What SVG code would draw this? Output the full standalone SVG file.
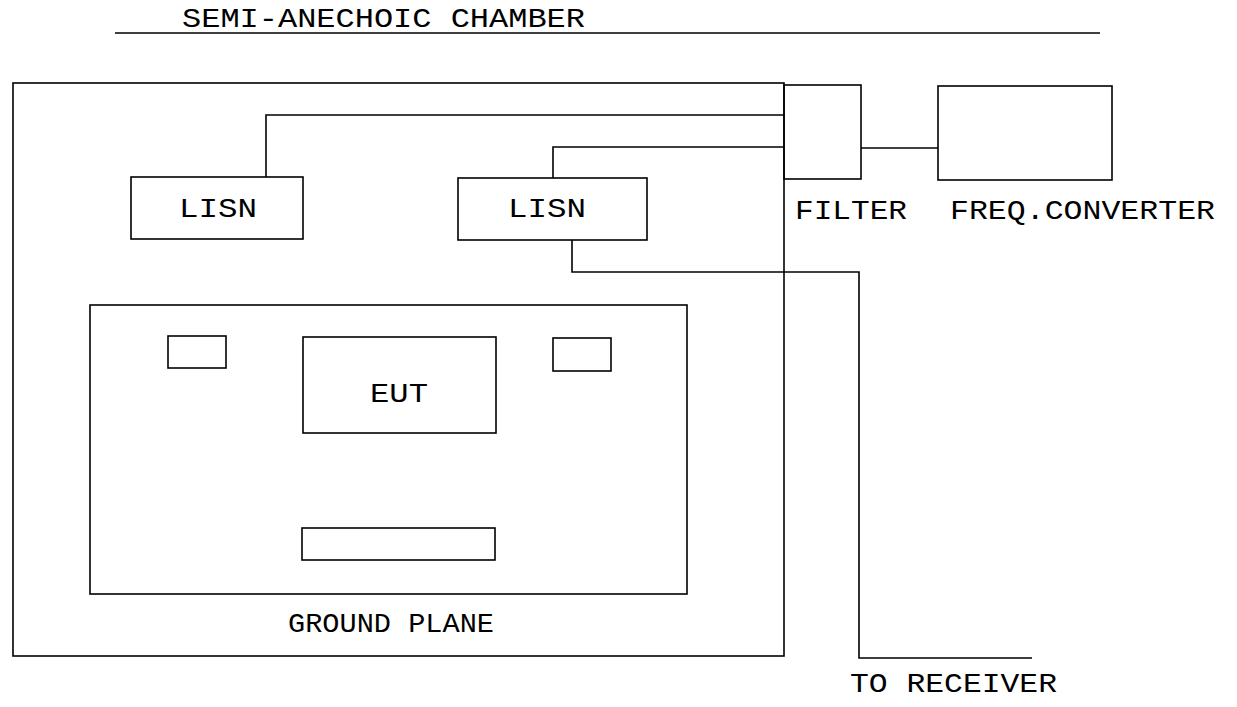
<svg xmlns="http://www.w3.org/2000/svg" width="1237" height="707" viewBox="0 0 1237 707">
<style>
.b{fill:none;stroke:#000;stroke-width:1.6}
.w{fill:none;stroke:#000;stroke-width:1.6}
.t{font-family:"Liberation Mono","Courier New",monospace;font-size:28px;fill:#000}
</style>
<rect width="1237" height="707" fill="#fff"/>
<g id="title">
<text class="t" x="182" y="27" textLength="403" lengthAdjust="spacingAndGlyphs">SEMI-ANECHOIC CHAMBER</text>
<line class="w" x1="115" y1="33" x2="1100" y2="33"/>
</g>
<g id="chamber">
<rect class="b" x="13" y="83" width="771" height="573"/>
</g>
<g id="filter">
<rect class="b" x="784" y="85" width="77" height="94"/>
<text class="t" x="795" y="219" textLength="112" lengthAdjust="spacingAndGlyphs">FILTER</text>
</g>
<g id="freqconv">
<rect class="b" x="938" y="86" width="174" height="94"/>
<text class="t" x="950" y="219" textLength="265" lengthAdjust="spacingAndGlyphs">FREQ.CONVERTER</text>
</g>
<g id="lisn1">
<rect class="b" x="131" y="177" width="172" height="62"/>
<text class="t" x="179" y="217" textLength="78" lengthAdjust="spacingAndGlyphs">LISN</text>
</g>
<g id="lisn2">
<rect class="b" x="458" y="178" width="189" height="62"/>
<text class="t" x="508" y="217" textLength="78" lengthAdjust="spacingAndGlyphs">LISN</text>
</g>
<g id="groundplane">
<rect class="b" x="90" y="305" width="597" height="289"/>
<text class="t" x="288" y="632" textLength="206" lengthAdjust="spacingAndGlyphs">GROUND PLANE</text>
</g>
<g id="box-left"><rect class="b" x="168" y="336" width="58" height="32"/></g>
<g id="eut">
<rect class="b" x="303" y="337" width="193" height="96"/>
<text class="t" x="370" y="402" textLength="58" lengthAdjust="spacingAndGlyphs">EUT</text>
</g>
<g id="box-right"><rect class="b" x="553" y="338" width="58" height="33"/></g>
<g id="box-bottom"><rect class="b" x="302" y="528" width="193" height="32"/></g>
<g id="receiver">
<text class="t" x="850" y="692" textLength="207" lengthAdjust="spacingAndGlyphs">TO RECEIVER</text>
</g>
<g id="connectors">
<polyline class="w" points="266,177 266,115 784,115"/>
<polyline class="w" points="553,178 553,147 784,147"/>
<line class="w" x1="861" y1="148" x2="938" y2="148"/>
<polyline class="w" points="572,240 572,272 859,272 859,658 1032,658"/>
</g>
</svg>
